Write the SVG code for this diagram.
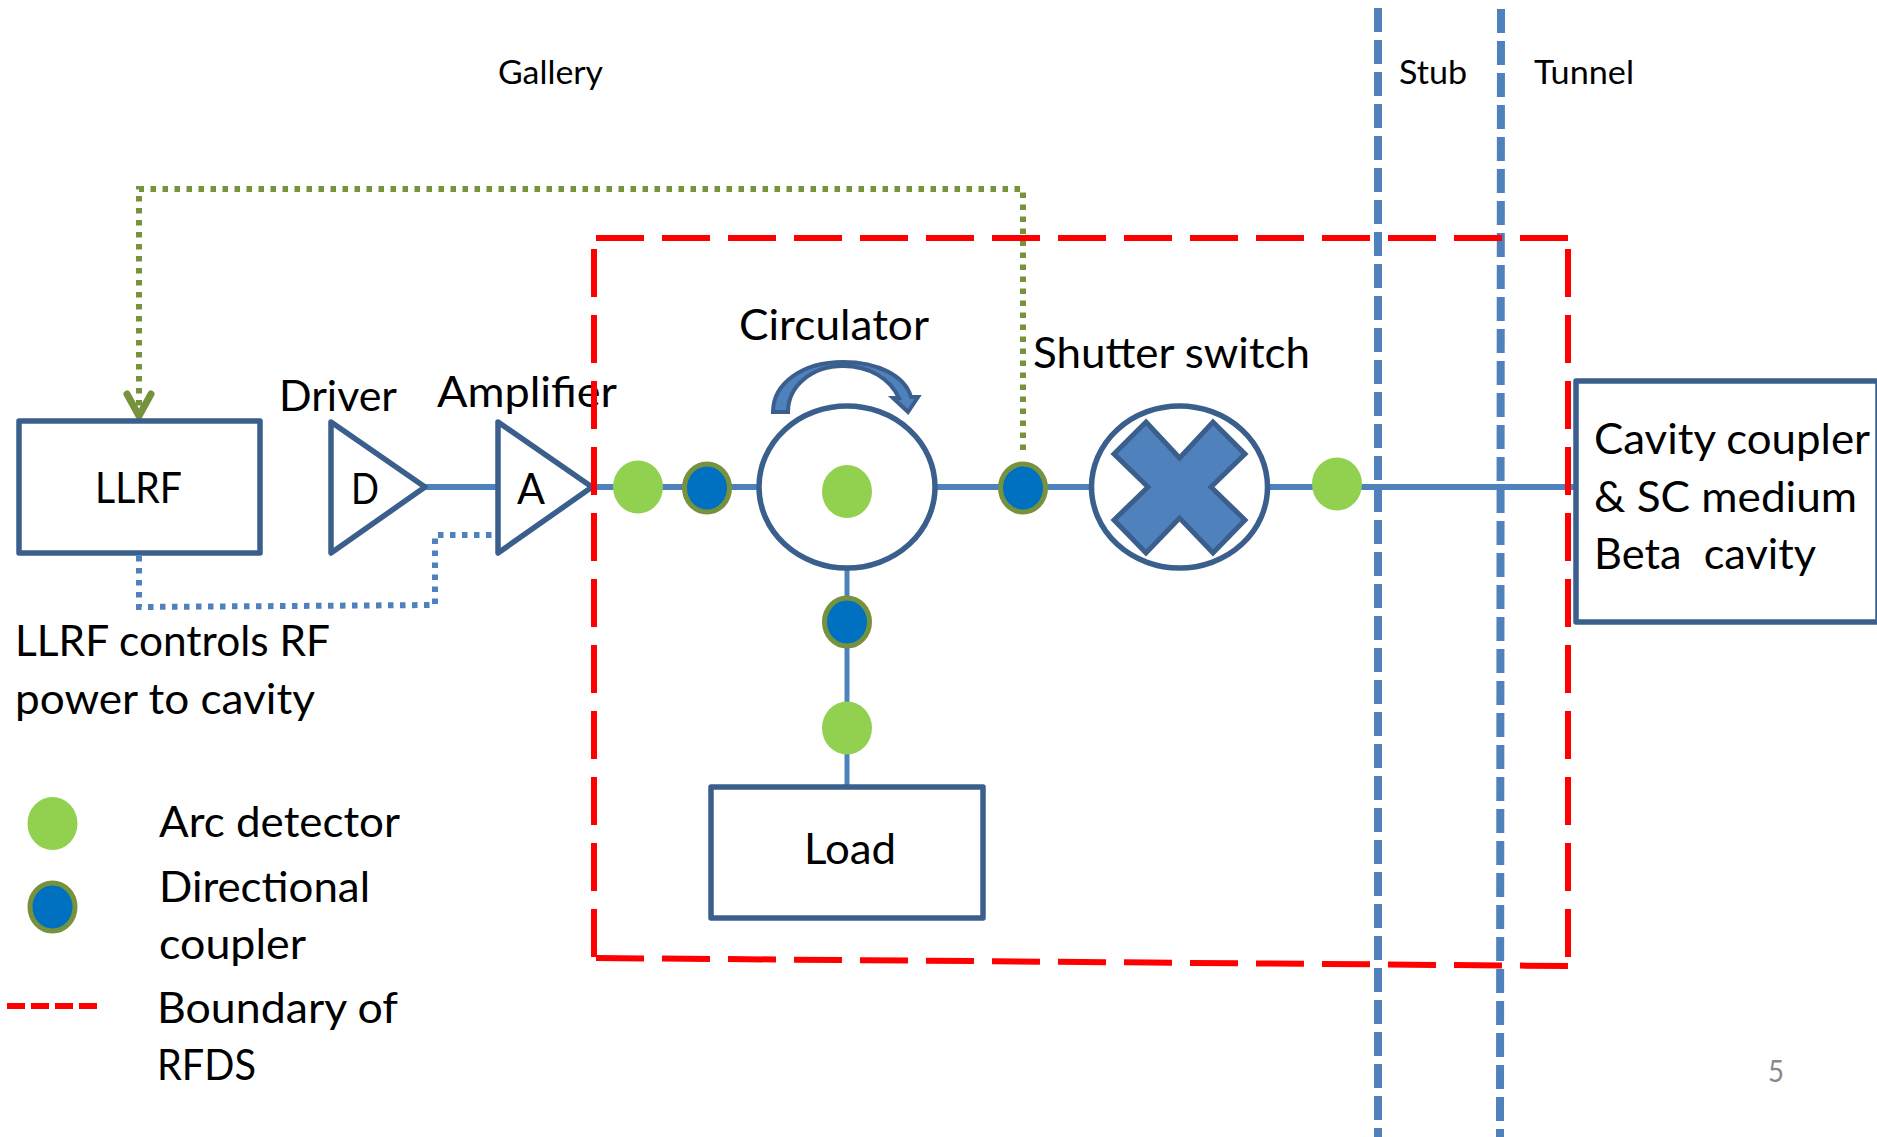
<svg xmlns="http://www.w3.org/2000/svg" width="1877" height="1137" viewBox="0 0 1877 1137">
<style>
text{font-family:Lato,"Liberation Sans",sans-serif;font-size:42px;fill:#000}
.sm{font-size:33px}
.pg{font-size:30px;fill:#8a8a8a}
.box{fill:#fff;stroke:#3b5f8c;stroke-width:5.5;stroke-linejoin:round}
.wire{fill:none;stroke:#4f81bd;stroke-width:6}
.arc{fill:#92d050;stroke:none}
.dc{fill:#0070c0;stroke:#76923c;stroke-width:5}
.red{fill:none;stroke:#f00;stroke-width:6;stroke-dasharray:48 18}
.zone{fill:none;stroke:#4f81bd;stroke-width:8;stroke-dasharray:24 8}
.dotg{fill:none;stroke:#76923c;stroke-width:6;stroke-dasharray:5.5 6.5}
.dotb{fill:none;stroke:#4f81bd;stroke-width:6;stroke-dasharray:5.5 6.5}
.sym{fill:#4f81bd;stroke:#3b5f8c;stroke-width:5;stroke-linejoin:miter}
</style>
<defs>
<marker id="chev" markerUnits="userSpaceOnUse" markerWidth="32" markerHeight="34" refX="24" refY="17" orient="auto" overflow="visible">
<path d="M2,5 L24,17 L2,29" fill="none" stroke="#76923c" stroke-width="7" stroke-linecap="round" stroke-linejoin="miter"/>
</marker>
</defs>
<g id="zone-labels">
<text class="sm" x="498" y="84" textLength="105" lengthAdjust="spacingAndGlyphs">Gallery</text>
<text class="sm" x="1399" y="84" textLength="68" lengthAdjust="spacingAndGlyphs">Stub</text>
<text class="sm" x="1534" y="84" textLength="100" lengthAdjust="spacingAndGlyphs">Tunnel</text>
<text class="pg" x="1768" y="1082" textLength="16" lengthAdjust="spacingAndGlyphs">5</text>
</g>
<g id="connectors">
<path class="zone" d="M1378,8 V1137"/>
<path class="zone" d="M1501,9 L1500,1137"/>
<path class="wire" d="M425,487 H498 M592,487 H1574"/>
<path class="wire" style="stroke-width:5" d="M847,568 V787"/>
<path class="dotg" d="M1023,450 V189 H139 V416" marker-end="url(#chev)"/>
<path class="dotb" d="M139,556 V607 L435,605 V535 H494"/>
</g>
<g id="llrf"><rect class="box" x="19" y="421" width="241" height="132"/><text x="95" y="503" textLength="87" lengthAdjust="spacingAndGlyphs">LLRF</text></g>
<text id="llrf-note-1" x="15" y="656" textLength="315" lengthAdjust="spacingAndGlyphs">LLRF controls RF</text>
<text id="llrf-note-2" x="15" y="714" textLength="300" lengthAdjust="spacingAndGlyphs">power to cavity</text>
<g id="driver"><path class="box" d="M331,422 L425,487 L331,553 Z"/><text x="351" y="504" textLength="28" lengthAdjust="spacingAndGlyphs">D</text><text x="279" y="411" textLength="118" lengthAdjust="spacingAndGlyphs">Driver</text></g>
<g id="amplifier"><path class="box" d="M498,422 L592,487 L498,553 Z"/><text x="517" y="504" textLength="28" lengthAdjust="spacingAndGlyphs">A</text><text x="437" y="407" textLength="180" lengthAdjust="spacingAndGlyphs">Amplifier</text></g>
<g id="arc-1"><ellipse class="arc" cx="638" cy="487" rx="25" ry="26.5"/></g>
<g id="coupler-1"><ellipse class="dc" cx="707" cy="488" rx="22.5" ry="24"/></g>
<g id="circulator">
<ellipse class="box" cx="847" cy="487" rx="88" ry="81"/>
<ellipse class="arc" cx="847" cy="491.5" rx="25" ry="26.5"/>
<path class="sym" style="stroke-width:4" d="M773,412 C773,383 803,362 843,362 C878,362 905,376 911,397 L918,397 L908,412 L893,398 L899,398 C890,379 870,366 843,366 C813,366 788,385 788,412 Z"/>
<text x="739" y="340" textLength="190" lengthAdjust="spacingAndGlyphs">Circulator</text>
</g>
<g id="coupler-2"><ellipse class="dc" cx="1023" cy="488" rx="22.5" ry="24"/></g>
<g id="coupler-3"><ellipse class="dc" cx="847" cy="622" rx="22.5" ry="24"/></g>
<g id="arc-2"><ellipse class="arc" cx="847" cy="728" rx="25" ry="26.5"/></g>
<g id="load"><rect class="box" x="711" y="787" width="272" height="131"/><text x="804" y="864" textLength="92" lengthAdjust="spacingAndGlyphs">Load</text></g>
<g id="shutter">
<ellipse class="box" cx="1179.5" cy="487" rx="88" ry="81"/>
<path class="sym" d="M1146,422 L1179.6,458 L1213,422 L1245,454 L1211,487 L1245,520 L1213,553 L1179.6,518 L1146,553 L1114,520 L1148,487 L1114,454 Z"/>
<text x="1033" y="368" textLength="277" lengthAdjust="spacingAndGlyphs">Shutter switch</text>
</g>
<g id="arc-3"><ellipse class="arc" cx="1337" cy="484" rx="25" ry="26.5"/></g>
<g id="boundary">
<path class="red" d="M594,249 V957"/>
<path class="red" d="M596,238 H1568"/>
<path class="red" d="M1568,249 V957"/>
<path class="red" d="M596,958 L1568,966"/>
</g>
<g id="cavity">
<rect class="box" x="1576" y="381" width="302" height="241"/>
<text x="1594" y="454" textLength="276" lengthAdjust="spacingAndGlyphs">Cavity coupler</text>
<text x="1594" y="512" textLength="263" lengthAdjust="spacingAndGlyphs">&amp; SC medium</text>
<text x="1594" y="569" textLength="222" lengthAdjust="spacingAndGlyphs" xml:space="preserve">Beta  cavity</text>
</g>
<g id="legend">
<ellipse class="arc" cx="52.5" cy="823.5" rx="25" ry="26.5"/>
<text x="159" y="837" textLength="241" lengthAdjust="spacingAndGlyphs">Arc detector</text>
<ellipse class="dc" cx="52.5" cy="907" rx="22.5" ry="24"/>
<text x="159" y="902" textLength="211" lengthAdjust="spacingAndGlyphs">Directional</text>
<text x="159" y="959" textLength="147" lengthAdjust="spacingAndGlyphs">coupler</text>
<path class="red" style="stroke-dasharray:18 6" d="M7,1006 H97"/>
<text x="157" y="1023" textLength="241" lengthAdjust="spacingAndGlyphs">Boundary of</text>
<text x="157" y="1080" textLength="99" lengthAdjust="spacingAndGlyphs">RFDS</text>
</g>
</svg>
